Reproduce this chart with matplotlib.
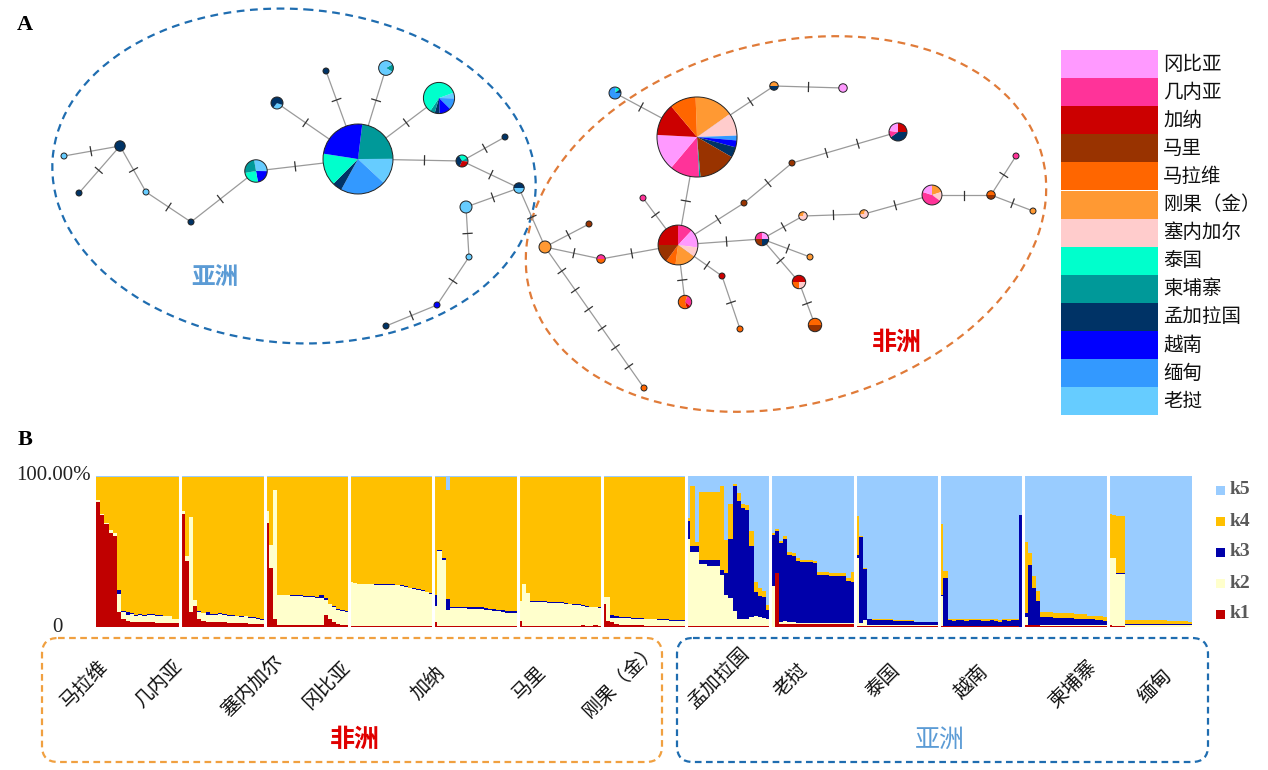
import numpy as np
import matplotlib.pyplot as plt
from matplotlib.patches import Wedge, Circle, Ellipse, FancyBboxPatch, Rectangle

plt.rcParams['font.family'] = ['Noto Sans CJK SC', 'DejaVu Sans']

# ---------------- data ----------------
countries = ['冈比亚', '几内亚', '加纳', '马里', '马拉维', '刚果（金）', '塞内加尔',
             '泰国', '柬埔寨', '孟加拉国', '越南', '缅甸', '老挝']
country_colors = ['#FF99FF', '#FF3399', '#CC0000', '#993300', '#FF6600', '#FF9933', '#FFCCCC',
                  '#00FFCC', '#009999', '#003366', '#0000FF', '#3399FF', '#66CCFF']
col = dict(zip(countries, country_colors))

# haplotype network: position (layout), sample count, composition (clockwise), start angle
hap_x = [358, 256, 439, 386, 277, 326, 462, 505, 519, 466, 469, 437, 386, 120, 64, 79, 146, 191,
         545, 589, 601, 678, 697, 615, 774, 843, 898, 792, 744, 643, 762, 803, 864, 932, 991,
         1016, 1033, 810, 799, 815, 722, 740, 685, 644]
hap_y = [159, 171, 98, 68, 103, 71, 161, 137, 188, 207, 257, 305, 326, 146, 156, 193, 192, 222,
         247, 224, 259, 245, 137, 93, 86, 88, 132, 163, 203, 198, 239, 216, 214, 195, 195,
         156, 211, 257, 282, 325, 276, 329, 302, 388]
hap_n = [136, 14, 27, 6, 4, 1, 4, 1, 3, 4, 1, 1, 1, 3, 1, 1, 1, 1,
         4, 1, 2, 44, 178, 4, 2, 2, 9, 1, 1, 1, 5, 2, 2, 11, 2, 1, 1, 1, 5, 5, 1, 1, 5, 1]
hap_start = [83, 100, 20, 30, -20, 90, 120, 90, 180, 90, 90, 90, 90, 90, 90, 90, 90, 90,
             90, 90, 180, 90, 92, 80, 180, 90, 90, 90, 90, 90, 90, 180, 180, 90, 180,
             90, 90, 90, 180, 180, 90, 90, 70, 90]
hap_mix = [
    [('柬埔寨', .23), ('老挝', .12), ('缅甸', .21), ('孟加拉国', .045), ('泰国', .15), ('越南', .245)],
    [('老挝', .28), ('越南', .22), ('泰国', .25), ('柬埔寨', .25)],
    [('老挝', .06), ('缅甸', .12), ('越南', .12), ('孟加拉国', .05), ('柬埔寨', .05), ('泰国', .60)],
    [('柬埔寨', .17), ('老挝', .83)],
    [('老挝', .3), ('孟加拉国', .7)],
    [('孟加拉国', 1)],
    [('泰国', .25), ('柬埔寨', .1), ('加纳', .3), ('孟加拉国', .35)],
    [('孟加拉国', 1)],
    [('孟加拉国', .5), ('老挝', .5)],
    [('老挝', 1)],
    [('老挝', 1)],
    [('越南', 1)],
    [('孟加拉国', 1)],
    [('孟加拉国', 1)],
    [('老挝', 1)],
    [('孟加拉国', 1)],
    [('老挝', 1)],
    [('孟加拉国', 1)],
    [('刚果（金）', 1)],
    [('马里', 1)],
    [('几内亚', .5), ('马拉维', .5)],
    [('几内亚', .12), ('冈比亚', .15), ('塞内加尔', .08), ('刚果（金）', .17), ('马拉维', .08),
     ('马里', .15), ('加纳', .25)],
    [('刚果（金）', 57), ('塞内加尔', 33), ('缅甸', 7), ('越南', 10), ('孟加拉国', 15), ('马里', 55),
     ('柬埔寨', 2), ('几内亚', 43), ('冈比亚', 53), ('加纳', 47), ('马拉维', 38)],
    [('泰国', .12), ('孟加拉国', .1), ('缅甸', .78)],
    [('刚果（金）', .5), ('孟加拉国', .5)],
    [('冈比亚', 1)],
    [('加纳', .25), ('孟加拉国', .4), ('几内亚', .12), ('冈比亚', .23)],
    [('马里', 1)],
    [('马里', 1)],
    [('几内亚', 1)],
    [('冈比亚', .25), ('孟加拉国', .25), ('马里', .25), ('几内亚', .25)],
    [('刚果（金）', .3), ('塞内加尔', .7)],
    [('刚果（金）', .3), ('塞内加尔', .7)],
    [('刚果（金）', .2), ('塞内加尔', .15), ('几内亚', .45), ('冈比亚', .2)],
    [('马拉维', .5), ('马里', .5)],
    [('几内亚', 1)],
    [('刚果（金）', 1)],
    [('刚果（金）', 1)],
    [('加纳', .5), ('塞内加尔', .25), ('马拉维', .25)],
    [('马拉维', .5), ('马里', .5)],
    [('加纳', 1)],
    [('马拉维', 1)],
    [('几内亚', .3), ('加纳', .1), ('马拉维', .6)],
    [('马拉维', 1)],
]
# (node a, node b, mutation ticks)
edges = [(0, 1, 1), (1, 17, 1), (17, 16, 1), (16, 13, 1), (13, 14, 1), (13, 15, 1), (0, 4, 1),
         (0, 5, 1), (0, 3, 1), (0, 2, 1), (0, 6, 1), (6, 7, 1), (6, 8, 1), (8, 9, 1), (9, 10, 1),
         (10, 11, 1), (11, 12, 1), (8, 18, 1),
         (18, 19, 1), (18, 20, 1), (20, 21, 1), (18, 43, 6), (21, 22, 1), (21, 29, 1), (21, 28, 1),
         (28, 27, 1), (27, 26, 2), (21, 30, 1), (30, 31, 1), (31, 32, 1), (32, 33, 1), (33, 34, 1),
         (34, 35, 1), (34, 36, 1), (30, 37, 1), (30, 38, 1), (38, 39, 1), (21, 40, 1), (40, 41, 1),
         (21, 42, 1), (22, 23, 1), (22, 24, 1), (24, 25, 1)]

# STRUCTURE (K=5) membership per individual: (k1, k2, k3, k4, k5)
pops = ['马拉维', '几内亚', '塞内加尔', '冈比亚', '加纳', '马里', '刚果（金）',
        '孟加拉国', '老挝', '泰国', '越南', '柬埔寨', '缅甸']
q_malawi = [(.83, .01, 0, .155, .005), (.74, .01, 0, .245, .005), (.68, .01, 0, .305, .005),
            (.62, .02, 0, .355, .005), (.60, .02, 0, .375, .005), (.10, .12, .025, .75, .005),
            (.05, .05, .005, .89, .005), (.04, .04, .02, .895, .005), (.035, .05, .005, .905, .005),
            (.03, .045, .005, .915, .005), (.03, .05, .005, .91, .005), (.03, .045, .005, .915, .005),
            (.03, .05, .005, .91, .005), (.03, .05, .005, .91, .005), (.025, .05, .005, .915, .005),
            (.025, .05, .005, .915, .005), (.025, .045, .005, .92, .005), (.025, .045, .005, .92, .005),
            (.025, .025, .005, .94, .005), (.025, .025, .005, .94, .005)]
q_guinea = [(.75, .02, 0, .225, .005), (.44, .03, 0, .525, .005), (.10, .63, 0, .265, .005),
            (.14, .04, 0, .815, .005), (.05, .05, .005, .89, .005), (.04, .05, .005, .9, .005),
            (.035, .045, .02, .895, .005), (.03, .05, .005, .91, .005), (.03, .05, .005, .91, .005),
            (.03, .055, .005, .905, .005), (.03, .05, .005, .91, .005), (.025, .05, .005, .915, .005),
            (.025, .05, .005, .915, .005), (.025, .045, .005, .92, .005), (.025, .04, .005, .925, .005),
            (.025, .045, .005, .92, .005), (.02, .04, .005, .93, .005), (.02, .04, .005, .93, .005),
            (.02, .035, .005, .935, .005), (.02, .025, .005, .945, .005)]
q_senegal = [(.69, .08, 0, .225, .005), (.39, .15, .005, .45, .005), (.05, .86, 0, .085, .005),
             (.01, .2, .005, .78, .005), (.01, .2, .005, .78, .005), (.01, .2, .005, .78, .005),
             (.01, .195, .005, .785, .005), (.01, .195, .005, .785, .005), (.01, .195, .005, .785, .005),
             (.01, .19, .005, .79, .005), (.01, .19, .005, .79, .005), (.01, .19, .005, .79, .005),
             (.01, .185, .005, .795, .005), (.01, .18, .02, .785, .005), (.08, .1, .01, .805, .005),
             (.05, .1, .005, .84, .005), (.03, .1, .01, .855, .005), (.02, .095, .005, .875, .005),
             (.01, .095, .005, .885, .005), (.01, .09, .005, .89, .005)]
q_gambia = [(.005, .29, 0, .7, .005), (.005, .285, 0, .705, .005), (.005, .28, 0, .71, .005),
            (.005, .28, 0, .71, .005), (.005, .28, 0, .71, .005), (.005, .28, 0, .71, .005),
            (.005, .275, .005, .71, .005), (.005, .275, .005, .71, .005), (.005, .275, .005, .71, .005),
            (.005, .275, .005, .71, .005), (.005, .275, .005, .71, .005), (.005, .27, .005, .715, .005),
            (.005, .265, .005, .72, .005), (.005, .26, .005, .725, .005), (.005, .25, .005, .735, .005),
            (.005, .245, .005, .74, .005), (.005, .24, .005, .745, .005), (.005, .235, .005, .75, .005),
            (.005, .225, .005, .76, .005), (.005, .215, .005, .77, .005)]
q_ghana = [(.03, .11, .07, .785, .005), (.005, .5, .005, .485, .005), (.005, .44, .01, .54, .005),
           (.005, .11, .07, .725, .09), (.005, .12, .01, .86, .005), (.005, .12, .01, .86, .005),
           (.005, .12, .01, .86, .005), (.005, .12, .01, .86, .005), (.005, .115, .01, .865, .005),
           (.005, .115, .01, .865, .005), (.005, .115, .01, .865, .005), (.005, .115, .01, .865, .005),
           (.005, .11, .01, .87, .005), (.005, .105, .01, .875, .005), (.005, .1, .015, .875, .005),
           (.005, .1, .01, .88, .005), (.005, .095, .01, .885, .005), (.005, .09, .01, .89, .005),
           (.005, .09, .01, .89, .005), (.005, .09, .01, .89, .005)]
q_mali = [(.04, .13, 0, .825, .005), (.005, .28, 0, .71, .005), (.005, .22, 0, .77, .005),
          (.005, .16, .005, .825, .005), (.005, .16, .005, .825, .005), (.005, .16, .005, .825, .005),
          (.005, .16, .005, .825, .005), (.005, .155, .005, .83, .005), (.005, .155, .005, .83, .005),
          (.005, .155, .005, .83, .005), (.005, .155, .005, .83, .005), (.005, .15, .005, .835, .005),
          (.005, .145, .005, .84, .005), (.005, .14, .005, .845, .005), (.005, .14, .005, .845, .005),
          (.01, .13, .005, .85, .005), (.005, .13, .005, .855, .005), (.005, .125, .005, .86, .005),
          (.01, .12, .005, .86, .005), (.005, .12, .005, .865, .005)]
q_drc = [(.15, .05, 0, .795, .005), (.04, .16, 0, .795, .005), (.03, .03, .02, .915, .005),
         (.02, .04, .01, .925, .005), (.015, .045, .005, .93, .005), (.01, .05, .005, .93, .005),
         (.01, .05, .005, .93, .005), (.01, .045, .005, .935, .005), (.01, .045, .005, .935, .005),
         (.01, .045, .005, .935, .005), (.005, .045, .005, .94, .005), (.005, .045, .005, .94, .005),
         (.005, .045, .005, .94, .005), (.005, .04, .005, .945, .005), (.005, .04, .005, .945, .005),
         (.005, .04, .005, .945, .005), (.005, .035, .005, .95, .005), (.005, .035, .005, .95, .005),
         (.005, .035, .005, .95, .005), (.005, .035, .005, .95, .005)]
q_bangladesh = [(.005, .58, .12, .02, .275), (.005, .49, .04, .40, .065), (.005, .49, .04, .03, .435),
                (.005, .41, .03, .45, .105), (.005, .41, .03, .45, .105), (.005, .40, .04, .45, .105),
                (.005, .40, .04, .45, .105), (.005, .40, .04, .45, .105), (.005, .34, .03, .56, .065),
                (.005, .21, .14, .22, .425), (.005, .19, .39, .23, .185), (.005, .10, .83, .01, .055),
                (.005, .05, .78, .055, .11), (.005, .05, .73, .03, .185), (.005, .05, .72, .03, .195),
                (.005, .06, .47, .10, .365), (.005, .07, .155, .065, .705), (.005, .06, .14, .055, .74),
                (.005, .055, .14, .04, .76), (.005, .05, .055, .035, .855)]
q_laos = [(0, .27, .34, .01, .38), (.36, 0, .275, .015, .35), (.02, .01, .525, .015, .43),
          (.02, .02, .54, .02, .40), (.02, .01, .45, .02, .50), (.02, .01, .44, .02, .51),
          (.02, .005, .415, .015, .545), (.02, .005, .405, .015, .555), (.02, .005, .405, .015, .555),
          (.02, .005, .405, .015, .555), (.02, .005, .40, .015, .56), (.02, .005, .32, .02, .635),
          (.02, .005, .32, .02, .635), (.02, .005, .32, .02, .635), (.02, .005, .315, .02, .64),
          (.02, .005, .315, .02, .64), (.02, .005, .31, .02, .645), (.02, .005, .31, .02, .645),
          (.02, .005, .28, .02, .675), (.02, .005, .27, .07, .635)]
q_thailand = [(.005, .45, .02, .26, .265), (.005, .02, .57, .01, .395), (.005, .04, .34, .005, .61),
              (.005, .005, .04, .005, .945), (.005, .005, .035, .005, .95), (.005, .005, .035, .005, .95),
              (.005, .005, .035, .005, .95), (.005, .005, .035, .005, .95), (.005, .005, .035, .005, .95),
              (.005, .005, .03, .005, .955), (.005, .005, .03, .005, .955), (.005, .005, .03, .005, .955),
              (.005, .005, .03, .005, .955), (.005, .005, .03, .005, .955), (.005, .005, .02, .005, .965),
              (.005, .005, .02, .005, .965), (.005, .005, .02, .005, .965), (.005, .005, .02, .005, .965),
              (.005, .005, .02, .005, .965), (.005, .005, .02, .005, .965)]
q_vietnam = [(.005, .20, .01, .47, .315), (.005, 0, .32, .045, .63), (.005, 0, .04, .01, .945),
             (.005, 0, .035, .01, .95), (.005, 0, .04, .01, .945), (.005, 0, .04, .01, .945),
             (.005, 0, .035, .01, .95), (.005, 0, .04, .01, .945), (.005, 0, .04, .01, .945),
             (.005, 0, .04, .01, .945), (.005, 0, .035, .01, .95), (.005, 0, .035, .01, .95),
             (.005, 0, .04, .01, .945), (.005, 0, .035, .01, .95), (.005, 0, .03, .01, .955),
             (.005, 0, .04, .01, .945), (.005, 0, .035, .01, .95), (.005, 0, .04, .01, .945),
             (.005, 0, .04, .01, .945), (0, 0, .74, 0, .26)]
q_cambodia = [(.015, .05, .03, .47, .435), (.01, 0, .40, .08, .51), (.01, 0, .25, .08, .66),
              (.01, 0, .16, .07, .76), (.005, .005, .055, .035, .90), (.005, .005, .055, .035, .90),
              (.005, .005, .055, .035, .90), (.005, .005, .05, .035, .905), (.005, .005, .05, .035, .905),
              (.005, .005, .05, .03, .91), (.005, .005, .05, .03, .91), (.005, .005, .05, .03, .91),
              (.005, .005, .045, .03, .915), (.005, .005, .045, .03, .915), (.005, .005, .045, .03, .915),
              (.005, .005, .04, .025, .925), (.005, .005, .04, .025, .925), (.005, .005, .035, .025, .93),
              (.005, .005, .035, .025, .93), (.005, .005, .03, .025, .935)]
q_myanmar = [(.015, .44, .005, .29, .25), (.005, .45, .005, .285, .255), (.005, .345, .005, .38, .265),
             (.005, .345, .005, .38, .265), (.003, .01, .005, .03, .952), (.003, .01, .005, .03, .952),
             (.003, .01, .005, .03, .952), (.003, .01, .005, .03, .952), (.003, .01, .005, .028, .954),
             (.003, .01, .005, .028, .954), (.003, .01, .005, .028, .954), (.003, .01, .005, .028, .954),
             (.003, .01, .005, .026, .956), (.003, .01, .005, .026, .956), (.003, .01, .005, .025, .957),
             (.003, .01, .005, .025, .957), (.003, .01, .005, .024, .958), (.003, .01, .005, .022, .96),
             (.003, .01, .005, .02, .962), (.003, .01, .005, .015, .967)]
q_all = [q_malawi, q_guinea, q_senegal, q_gambia, q_ghana, q_mali, q_drc,
         q_bangladesh, q_laos, q_thailand, q_vietnam, q_cambodia, q_myanmar]
k_names = ['k1', 'k2', 'k3', 'k4', 'k5']
k_colors = ['#C00000', '#FFFFCC', '#0000AA', '#FFC000', '#99CCFF']

# ---------------- figure ----------------
fig = plt.figure(figsize=(12.68, 7.70), dpi=100)
ax = fig.add_axes([0, 0, 1, 1])
ax.set_xlim(0, 1268)
ax.set_ylim(770, 0)
ax.axis('off')

radius = [3.0 * np.sqrt(n) for n in hap_n]

# edges + mutation ticks
for a, b, nt in edges:
    x0, y0, x1, y1 = hap_x[a], hap_y[a], hap_x[b], hap_y[b]
    ax.plot([x0, x1], [y0, y1], color='#9a9a9a', lw=0.9, zorder=2)
    L = np.hypot(x1 - x0, y1 - y0)
    ux, uy = (x1 - x0) / L, (y1 - y0) / L
    vis = L - radius[a] - radius[b]
    for k in range(nt):
        d = radius[a] + vis * (k + 1) / (nt + 1)
        cx, cy = x0 + ux * d, y0 + uy * d
        ax.plot([cx - uy * 4.5, cx + uy * 4.5], [cy + ux * 4.5, cy - ux * 4.5],
                color='#333333', lw=0.9, zorder=3)

# pie nodes
for i in range(len(hap_x)):
    tot = sum(f for _, f in hap_mix[i])
    a = -hap_start[i]
    for name, f in hap_mix[i]:
        sweep = f / tot * 360
        ax.add_patch(Wedge((hap_x[i], hap_y[i]), radius[i], a, a + sweep,
                           facecolor=col[name], edgecolor='none', zorder=4))
        a += sweep
    ax.add_patch(Circle((hap_x[i], hap_y[i]), radius[i], facecolor='none',
                        edgecolor='#222222', lw=0.7, zorder=5))

# group outlines
ax.add_patch(Ellipse((294, 176), 484, 334, angle=4, fill=False, ec='#1F6DB0',
                     lw=1.6, ls=(0, (3.5, 2.5)), zorder=1))
ax.add_patch(Ellipse((786, 224), 530, 362, angle=-15, fill=False, ec='#E07B39',
                     lw=1.6, ls=(0, (3.5, 2.5)), zorder=1))
ax.text(215, 277, '亚洲', color='#5B9BD5', fontsize=17, fontweight='bold', ha='center', va='center')
ax.text(897, 343, '非洲', color='#E00000', fontsize=18, fontweight='bold', ha='center', va='center')

# haplotype legend
row_h = 28.1
for j, (name, c) in enumerate(zip(countries, country_colors)):
    y = 50 + j * row_h
    ax.add_patch(Rectangle((1061, y), 97, row_h, facecolor=c, edgecolor='none'))
    ax.text(1163, y + row_h / 2, name, fontsize=14, ha='left', va='center', color='#111111')

ax.text(25, 25, 'A', fontsize=16, fontweight='bold', family='Liberation Serif', ha='center', va='center')
ax.text(25, 440, 'B', fontsize=16, fontweight='bold', family='Liberation Serif', ha='center', va='center')

# ---------------- structure bar plot ----------------
bx = fig.add_axes([96 / 1268, (770 - 627) / 770, 1096 / 1268, 151 / 770])
n_ind = len(q_malawi)
for p, q in enumerate(q_all):
    q = np.array(q, dtype=float)
    q = q / q.sum(axis=1, keepdims=True)
    xs = p * n_ind + np.arange(len(q))
    bottom = np.zeros(len(q))
    for k in range(5):
        bx.bar(xs, q[:, k], bottom=bottom, width=1.0, align='edge', color=k_colors[k],
               linewidth=0, antialiased=False)
        bottom += q[:, k]
for p in range(1, len(q_all)):
    bx.axvline(p * n_ind, color='white', lw=2.2)
bx.set_xlim(0, n_ind * len(q_all))
bx.set_ylim(0, 1)
bx.axis('off')

ax.text(91, 476, '100.00%', fontsize=15, family='Liberation Serif', ha='right', va='center', color='#222222')
ax.text(57, 628, '0', fontsize=15, family='Liberation Serif', ha='center', va='center', color='#222222')

# K legend
for j, k in enumerate([4, 3, 2, 1, 0]):
    y = 490 + j * 31
    ax.add_patch(Rectangle((1216, y - 4.5), 9, 9, facecolor=k_colors[k], edgecolor='none'))
    ax.text(1230, y, k_names[k], fontsize=14, fontweight='bold', family='Liberation Serif',
            color='#595959', ha='left', va='center')

# population labels and group boxes
label_xy = [(84, 684), (158, 684), (252, 686), (327, 685), (428, 683), (529, 683), (621, 680),
            (718, 678), (791, 681), (883, 681), (971, 682), (1073, 684), (1155, 686)]
for name, (x, y) in zip(pops, label_xy):
    ax.text(x, y, name, fontsize=14, rotation=45, rotation_mode='anchor',
            ha='center', va='center', color='#111111')

ax.add_patch(FancyBboxPatch((42, 638), 620, 124, boxstyle='round,pad=0,rounding_size=16',
                            fill=False, ec='#F0A040', lw=1.6, ls=(0, (3, 2))))
ax.add_patch(FancyBboxPatch((677, 638), 531, 124, boxstyle='round,pad=0,rounding_size=16',
                            fill=False, ec='#1F6DB0', lw=1.6, ls=(0, (3, 2))))
ax.text(355, 740, '非洲', color='#E00000', fontsize=18, fontweight='bold', ha='center', va='center')
ax.text(940, 740, '亚洲', color='#5B9BD5', fontsize=18, ha='center', va='center')

fig.savefig('out.png', dpi=100)
